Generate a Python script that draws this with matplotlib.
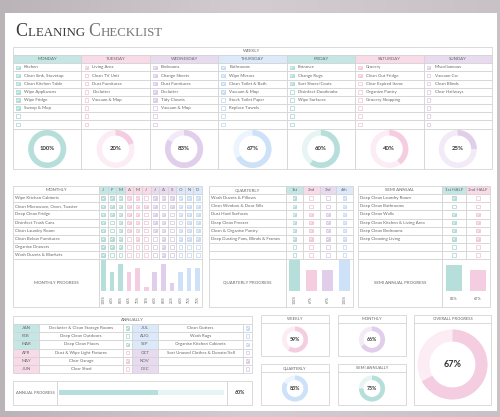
import numpy as np
import matplotlib
matplotlib.use('Agg')
import matplotlib.pyplot as plt
from matplotlib.patches import Rectangle, Wedge

plt.rcParams['font.family'] = ['Lato', 'DejaVu Sans']

# ---------------- data ----------------
days = ['MONDAY', 'TUESDAY', 'WEDNESDAY', 'THURSDAY', 'FRIDAY', 'SATURDAY', 'SUNDAY']
day_tasks = [
    ['Kitchen', 'Clean Sink, Stovetop', 'Clean Kitchen Table', 'Wipe Appliances', 'Wipe Fridge', 'Sweep & Mop'],
    ['Living Area', 'Clean TV Unit', 'Dust Furnitures', 'Declutter', 'Vacuum & Mop'],
    ['Bedrooms', 'Change Sheets', 'Dust Furnitures', 'Declutter', 'Tidy Closets', 'Vacuum & Mop'],
    ['Bathrooms', 'Wipe Mirrors', 'Clean Toilet & Bath', 'Vacuum & Mop', 'Stock Toilet Paper', 'Replace Towels'],
    ['Entrance', 'Change Rugs', 'Sort Shoes/Coats', 'Disinfect Doorknobs', 'Wipe Surfaces'],
    ['Grocery', 'Clean Out Fridge', 'Clear Expired Items', 'Organize Pantry', 'Grocery Shopping'],
    ['Miscellaneous', 'Vacuum Car', 'Clean Blinds', 'Clear Hallways'],
]
day_done = [
    [1, 1, 1, 1, 1, 1],
    [1, 0, 0, 0, 0],
    [1, 1, 1, 1, 1, 0],
    [1, 1, 1, 1, 0, 0],
    [1, 1, 1, 0, 0],
    [1, 1, 0, 0, 0],
    [1, 0, 0, 0],
]
day_colors = ['teal', 'pink', 'lav', 'blue', 'teal', 'pink', 'lav']

months = ['J', 'F', 'M', 'A', 'M', 'J', 'J', 'A', 'S', 'O', 'N', 'D']
month_colors = ['teal'] * 3 + ['pink'] * 3 + ['lav'] * 3 + ['blue'] * 3
monthly_tasks = ['Wipe Kitchen Cabinets', 'Clean Microwave, Oven, Toaster', 'Deep Clean Fridge',
                 'Disinfect Trash Cans', 'Clean Laundry Room', 'Clean Below Furnitures',
                 'Organise Drawers', 'Wash Duvets & Blankets']
monthly_done = [
    [1, 1, 1, 1, 1, 0, 1, 1, 1, 1, 1, 1],
    [1, 1, 1, 1, 1, 1, 1, 0, 1, 1, 1, 1],
    [1, 1, 1, 1, 1, 0, 1, 1, 0, 1, 1, 1],
    [1, 0, 1, 1, 1, 0, 1, 1, 0, 0, 1, 1],
    [1, 0, 1, 1, 1, 0, 1, 1, 0, 1, 1, 1],
    [1, 1, 1, 0, 1, 0, 0, 1, 0, 1, 1, 1],
    [1, 1, 1, 0, 0, 0, 0, 1, 0, 0, 0, 0],
    [1, 0, 0, 0, 0, 0, 0, 1, 0, 0, 0, 0],
]

quarters = ['1st', '2nd', '3rd', '4th']
quarter_colors = ['teal', 'pink', 'lav', 'blue']
quarterly_tasks = ['Wash Duvets & Pillows', 'Clean Window & Door Sills', 'Dust Hard Surfaces',
                   'Deep Clean Freezer', 'Clean & Organise Pantry', 'Deep Dusting Fans, Blinds & Frames']
quarterly_done = [
    [1, 0, 0, 1],
    [1, 0, 0, 1],
    [1, 1, 1, 1],
    [1, 1, 1, 1],
    [1, 1, 1, 1],
    [1, 1, 1, 1],
]

halves = ['1st HALF', '2nd HALF']
half_colors = ['teal', 'pink']
semi_tasks = ['Deep Clean Laundry Room', 'Deep Clean Bathrooms', 'Deep Clean Walls',
              'Deep Clean Kitchen & Living Area', 'Deep Clean Bedrooms', 'Deep Cleaning Living']
semi_done = [[1, 0], [0, 0], [1, 1], [1, 1], [1, 1], [1, 1]]

annual_months = ['JAN', 'FEB', 'MAR', 'APR', 'MAY', 'JUN', 'JUL', 'AUG', 'SEP', 'OCT', 'NOV', 'DEC']
annual_colors = ['teal'] * 3 + ['pink'] * 3 + ['blue'] * 3 + ['lav'] * 3
annual_tasks = ['Declutter & Clean Storage Rooms', 'Deep Clean Outdoors', 'Deep Clean Floors',
                'Dust & Wipe Light Fixtures', 'Clear Garage', 'Clear Shed',
                'Clean Gutters', 'Wash Rugs', 'Organise Kitchen Cabinets',
                'Sort Unused Clothes & Donate/Sell', '', '']
annual_done = [1, 0, 1, 0, 1, 0, 1, 0, 1, 0, 1, 0]

summary_labels = ['WEEKLY', 'MONTHLY', 'QUARTERLY', 'SEMI ANNUALLY', 'OVERALL PROGRESS']
summary_pct = [59, 66, 83, 75, 67]
summary_colors = ['pink', 'lav', 'blue', 'teal', 'pink']

# ---------------- style ----------------
PAL = {
    'teal': dict(head='#c4e6e4', fill='#b3ddda', edge='#a3d5d1', ring='#b6dfdc', light='#e6f4f3'),
    'pink': dict(head='#f9dbe8', fill='#f4c8db', edge='#f2c0d5', ring='#f5cde0', light='#fcedf4'),
    'lav': dict(head='#e8dbef', fill='#dccaea', edge='#d6c3e4', ring='#e0ceeb', light='#f2eaf6'),
    'blue': dict(head='#dbe9fa', fill='#c8ddf6', edge='#bcd5f3', ring='#cde1f8', light='#ecf4fd'),
}
LINE = '#d4d4d4'
TXT = '#666666'
FS = 3.15


def pct(v):
    return int(v * 100 + 0.5)


fig = plt.figure(figsize=(5, 4.17), dpi=100)
ax = fig.add_axes([0, 0, 1, 1])
ax.set_xlim(0, 500)
ax.set_ylim(417, 0)
ax.axis('off')

# marble-ish background and white sheet
grad = np.linspace(0, 1, 256)[None, :] * np.ones((10, 1))
ax.imshow(grad, extent=(0, 500, 417, 0), cmap=matplotlib.colors.LinearSegmentedColormap.from_list(
    'bg', ['#bab3b8', '#d3ccd1', '#c8c1c6']), aspect='auto', zorder=0)
ax.add_patch(Rectangle((5, 13), 492, 398, fc='white', ec='none', zorder=1))


def cell(x0, y0, x1, y1, fc='white', lw=0.6):
    ax.add_patch(Rectangle((x0, y0), x1 - x0, y1 - y0, fc=fc, ec=LINE, lw=lw, zorder=2))


def txt(x, y, s, size=FS, ha='center', color=TXT, **kw):
    ax.text(x, y, s, fontsize=size, ha=ha, va='center', color=color, zorder=5, **kw)


def checkbox(x, y, col, checked, s=3.6):
    p = PAL[col]
    ax.add_patch(Rectangle((x - s / 2, y - s / 2), s, s, fc=p['fill'] if checked else 'white',
                           ec=p['edge'], lw=0.5, zorder=4))
    if checked:
        ax.plot([x - 1.0, x - 0.3, x + 1.1], [y + 0.1, y + 0.9, y - 0.9], color='white', lw=0.45, zorder=5)


def donut(cx, cy, r, w, frac, col, label, size):
    p = PAL[col]
    ax.add_patch(Wedge((cx, cy), r, 0, 360, width=w, fc=p['light'], ec='none', zorder=3))
    if frac > 0:
        ax.add_patch(Wedge((cx, cy), r, -90, -90 + 360 * frac, width=w, fc=p['ring'], ec='none', zorder=4))
    txt(cx, cy, label, size=size, color='#333333', fontweight='bold')


# ---------------- title ----------------
renderer = fig.canvas.get_renderer()
tx = 15
for s, size, color in [('C', 13, '#3d3d3d'), ('LEANING ', 9.3, '#3d3d3d'), ('C', 13, '#777777'), ('HECKLIST', 9.3, '#777777')]:
    t = ax.text(tx, 36, s, fontsize=size, color=color, family=['Liberation Serif', 'DejaVu Serif'],
                va='baseline', zorder=5)
    tx += t.get_window_extent(renderer).width + 0.5

# ---------------- weekly ----------------
wx = np.linspace(13, 492, 8)
rh = 8.15
row_y = 63.3 + rh * np.arange(9)
cell(13, 47, 492, 55)
txt(252, 51, 'WEEKLY')
for i, d in enumerate(days):
    x0, x1 = wx[i], wx[i + 1]
    col = day_colors[i]
    cell(x0, 55, x1, 63.3, fc=PAL[col]['head'])
    txt((x0 + x1) / 2, 59.3, d)
    for r in range(8):
        cell(x0, row_y[r], x1, row_y[r + 1])
        yc = (row_y[r] + row_y[r + 1]) / 2
        done = day_done[i][r] if r < len(day_done[i]) else 0
        checkbox(x0 + 5, yc, col, done)
        if r < len(day_tasks[i]):
            txt(x0 + 11, yc, day_tasks[i][r], ha='left')
    cell(x0, row_y[8], x1, 169)
    frac = sum(day_done[i]) / len(day_done[i])
    donut((x0 + x1) / 2, 149, 19, 5.5, frac, col, '%d%%' % pct(frac), 4.3)

# ---------------- monthly ----------------
hy0, hy1 = 186, 194.2
ry = hy1 + 8.1 * np.arange(9)
pb = 307
mx = np.linspace(99, 202, 13)
cell(13, hy0, 99, hy1)
txt(56, (hy0 + hy1) / 2, 'MONTHLY')
for j, m in enumerate(months):
    cell(mx[j], hy0, mx[j + 1], hy1, fc=PAL[month_colors[j]]['head'])
    txt((mx[j] + mx[j + 1]) / 2, (hy0 + hy1) / 2, m)
for r, t in enumerate(monthly_tasks):
    cell(13, ry[r], 99, ry[r + 1])
    txt(15, (ry[r] + ry[r + 1]) / 2, t, ha='left')
    for j in range(12):
        cell(mx[j], ry[r], mx[j + 1], ry[r + 1])
        checkbox((mx[j] + mx[j + 1]) / 2, (ry[r] + ry[r + 1]) / 2, month_colors[j], monthly_done[r][j])
cell(13, ry[8], 99, pb)
cell(99, ry[8], 202, pb)
txt(56, 283, 'MONTHLY PROGRESS')
mfrac = np.array(monthly_done).sum(axis=0) / len(monthly_tasks)
mcent = (mx[:-1] + mx[1:]) / 2
ax.bar(mcent, -31 * mfrac, bottom=291, width=4.6,
       color=[PAL[c]['ring'] for c in month_colors], zorder=3)
for j in range(12):
    txt(mcent[j], 299.5, '%d%%' % pct(mfrac[j]), size=2.5, rotation=90)

# ---------------- quarterly ----------------
qx = np.linspace(286, 353, 5)
cell(209, hy0, 286, hy1)
txt(247.5, (hy0 + hy1) / 2, 'QUARTERLY')
for j, q in enumerate(quarters):
    cell(qx[j], hy0, qx[j + 1], hy1, fc=PAL[quarter_colors[j]]['head'])
    txt((qx[j] + qx[j + 1]) / 2, (hy0 + hy1) / 2, q)
for r in range(8):
    cell(209, ry[r], 286, ry[r + 1])
    if r < len(quarterly_tasks):
        txt(211, (ry[r] + ry[r + 1]) / 2, quarterly_tasks[r], ha='left')
    for j in range(4):
        cell(qx[j], ry[r], qx[j + 1], ry[r + 1])
        done = quarterly_done[r][j] if r < len(quarterly_done) else 0
        checkbox((qx[j] + qx[j + 1]) / 2, (ry[r] + ry[r + 1]) / 2, quarter_colors[j], done)
cell(209, ry[8], 286, pb)
cell(286, ry[8], 353, pb)
txt(247.5, 283, 'QUARTERLY PROGRESS')
qfrac = np.array(quarterly_done).sum(axis=0) / len(quarterly_tasks)
qcent = (qx[:-1] + qx[1:]) / 2
ax.bar(qcent, -31 * qfrac, bottom=291, width=11,
       color=[PAL[c]['ring'] for c in quarter_colors], zorder=3)
for j in range(4):
    txt(qcent[j], 299.5, '%d%%' % pct(qfrac[j]), size=2.5, rotation=90)

# ---------------- semi annual ----------------
sx = [442, 466, 490]
cell(358, hy0, 442, hy1)
txt(400, (hy0 + hy1) / 2, 'SEMI ANNUAL')
for j, h in enumerate(halves):
    cell(sx[j], hy0, sx[j + 1], hy1, fc=PAL[half_colors[j]]['head'])
    txt((sx[j] + sx[j + 1]) / 2, (hy0 + hy1) / 2, h)
for r in range(8):
    cell(358, ry[r], 442, ry[r + 1])
    if r < len(semi_tasks):
        txt(360, (ry[r] + ry[r + 1]) / 2, semi_tasks[r], ha='left')
    for j in range(2):
        cell(sx[j], ry[r], sx[j + 1], ry[r + 1])
        done = semi_done[r][j] if r < len(semi_done) else 0
        checkbox((sx[j] + sx[j + 1]) / 2, (ry[r] + ry[r + 1]) / 2, half_colors[j], done)
cell(358, ry[8], 442, pb)
cell(442, ry[8], 490, pb)
txt(400, 283, 'SEMI ANNUAL PROGRESS')
sfrac = np.array(semi_done).sum(axis=0) / len(semi_tasks)
scent = [(sx[0] + sx[1]) / 2, (sx[1] + sx[2]) / 2]
ax.bar(scent, -31 * sfrac, bottom=291, width=16,
       color=[PAL[c]['ring'] for c in half_colors], zorder=3)
for j in range(2):
    txt(scent[j], 299, '%d%%' % pct(sfrac[j]), size=2.8)

# ---------------- annually ----------------
ax_cols = [13, 39, 123, 132, 158, 243, 252]
ay = 324 + 8.17 * np.arange(7)
cell(13, 316, 252, 324)
txt(132.5, 320, 'ANNUALLY')
for k in range(12):
    side, r = divmod(k, 6)
    c0, c1, c2, c3 = ax_cols[3 * side:3 * side + 4]
    y0, y1 = ay[r], ay[r + 1]
    yc = (y0 + y1) / 2
    cell(c0, y0, c1, y1, fc=PAL[annual_colors[k]]['head'])
    txt((c0 + c1) / 2, yc, annual_months[k])
    cell(c1, y0, c2, y1)
    txt((c1 + c2) / 2, yc, annual_tasks[k])
    cell(c2, y0, c3, y1)
    checkbox((c2 + c3) / 2, yc, annual_colors[k], annual_done[k])

afrac = sum(annual_done) / sum(1 for t in annual_tasks if t)
cell(13, 381, 57, 405)
cell(57, 381, 227, 405)
cell(227, 381, 252, 405)
txt(35, 393, 'ANNUAL PROGRESS', size=3.0)
ax.barh([392.5], [165], left=59, height=5, color=PAL['teal']['light'], zorder=3)
ax.barh([392.5], [165 * afrac], left=59, height=5, color=PAL['teal']['ring'], zorder=4)
txt(239.5, 393, '%d%%' % pct(afrac), size=3.8, color='#333333', fontweight='bold')

# ---------------- summary donuts ----------------
boxes = [(261, 315, 329, 356), (338, 315, 406, 356), (261, 364, 329, 405), (338, 364, 406, 405),
         (414, 315, 491, 405)]
for b, lab, p, col in zip(boxes, summary_labels, summary_pct, summary_colors):
    x0, y0, x1, y1 = b
    cell(x0, y0, x1, y1)
    ax.plot([x0, x1], [y0 + 8, y0 + 8], color=LINE, lw=0.6, zorder=3)
    txt((x0 + x1) / 2, y0 + 4, lab, size=3.0)
    cy = (y0 + 8 + y1) / 2
    if lab == 'OVERALL PROGRESS':
        donut((x0 + x1) / 2, cy + 0.5, 35, 12, p / 100, col, '%d%%' % p, 6.5)
    else:
        donut((x0 + x1) / 2, cy, 13, 4.5, p / 100, col, '%d%%' % p, 3.8)

fig.savefig('out.png', dpi=100)
